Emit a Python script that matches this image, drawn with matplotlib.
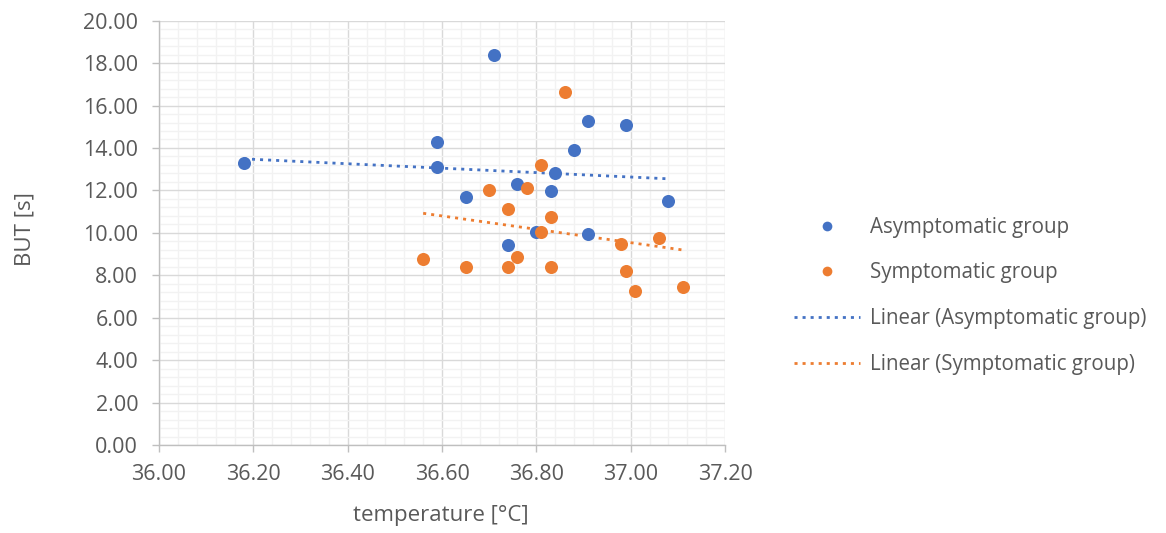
import numpy as np
import matplotlib
matplotlib.use("Agg")
import matplotlib.pyplot as plt
from matplotlib.ticker import MultipleLocator, FormatStrFormatter
from matplotlib.lines import Line2D

plt.rcParams['font.family'] = ['Open Sans', 'DejaVu Sans']

# Tear film break-up time vs. body temperature
temp_asym = [36.18, 36.59, 36.59, 36.65, 36.71, 36.76, 36.74, 36.80, 36.83,
             36.84, 36.88, 36.91, 36.91, 36.99, 37.08]
but_asym = [13.30, 14.29, 13.11, 11.70, 18.40, 12.31, 9.43, 10.05, 11.98,
            12.83, 13.92, 15.28, 9.95, 15.09, 11.51]

temp_sym = [36.81, 36.70, 36.78, 36.74, 36.83, 36.81, 36.98, 37.06, 36.76,
            36.56, 36.65, 36.74, 36.83, 36.99, 37.01, 37.11, 36.86]
but_sym = [13.21, 12.00, 12.11, 11.12, 10.74, 10.05, 9.48, 9.76, 8.87,
           8.77, 8.41, 8.41, 8.41, 8.22, 7.25, 7.44, 16.65]

labels = ["Asymptomatic group", "Symptomatic group",
          "Linear (Asymptomatic group)", "Linear (Symptomatic group)"]

BLUE = "#4472C4"
ORANGE = "#ED7D31"
TEXT = "#595959"

fig = plt.figure(figsize=(11.66, 5.33), dpi=100)
ax = fig.add_axes([0.1364, 0.1651, 0.4854, 0.7961])

ax.set_xlim(36.0, 37.2)
ax.set_ylim(0, 20)
ax.xaxis.set_major_locator(MultipleLocator(0.2))
ax.xaxis.set_minor_locator(MultipleLocator(0.04))
ax.yaxis.set_major_locator(MultipleLocator(2))
ax.yaxis.set_minor_locator(MultipleLocator(0.4))
ax.xaxis.set_major_formatter(FormatStrFormatter('%.2f'))
ax.yaxis.set_major_formatter(FormatStrFormatter('%.2f'))

ax.grid(which='minor', color='#F2F2F2', linewidth=1.0, zorder=0)
ax.grid(which='major', color='#D9D9D9', linewidth=1.0, zorder=0)
ax.set_axisbelow(True)

for s in ('top', 'right'):
    ax.spines[s].set_visible(False)
for s in ('left', 'bottom'):
    ax.spines[s].set_color('#BFBFBF')
    ax.spines[s].set_linewidth(1.0)

ax.tick_params(which='major', length=5, width=1.0, color='#BFBFBF',
               labelsize=15.5, labelcolor=TEXT)
ax.tick_params(axis='y', which='major', pad=10)
ax.tick_params(axis='x', which='major', pad=9)
ax.tick_params(which='minor', length=0)

ms = 9.4
ax.plot(temp_asym, but_asym, 'o', color=BLUE, markersize=ms,
        markeredgewidth=0, zorder=3)
ax.plot(temp_sym, but_sym, 'o', color=ORANGE, markersize=ms,
        markeredgewidth=0, zorder=3)

# least-squares trend lines spanning each group's temperature range
dot = (0, (1.1, 1.8))
for xs, ys, c in ((temp_asym, but_asym, BLUE), (temp_sym, but_sym, ORANGE)):
    xs = np.asarray(xs)
    ys = np.asarray(ys)
    k, b = np.polyfit(xs, ys, 1)
    xr = np.array([xs.min(), xs.max()])
    ax.plot(xr, k * xr + b, linestyle=dot, color=c, linewidth=2.0, zorder=2)

ax.set_xlabel("temperature [°C]", fontsize=16, color=TEXT, va='center')
ax.set_ylabel("BUT [s]", fontsize=16, color=TEXT, va='center')
ax.xaxis.set_label_coords(0.498, -0.165)
ax.yaxis.set_label_coords(-0.236, 0.51)

handles = [
    Line2D([], [], linestyle='none', marker='o', color=BLUE, markersize=7,
           markeredgewidth=0),
    Line2D([], [], linestyle='none', marker='o', color=ORANGE, markersize=7,
           markeredgewidth=0),
    Line2D([], [], linestyle=dot, color=BLUE, linewidth=2.0),
    Line2D([], [], linestyle=dot, color=ORANGE, linewidth=2.0),
]
fig.legend(handles, labels, loc='center left',
           bbox_to_anchor=(0.665, 0.445), frameon=False, fontsize=14.8,
           handlelength=3.2, handletextpad=0.5, labelspacing=1.2,
           labelcolor=TEXT)

fig.savefig("out.png", dpi=100)
